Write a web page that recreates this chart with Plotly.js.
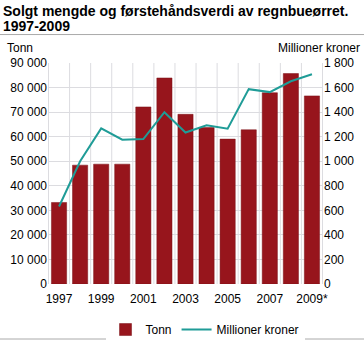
<!DOCTYPE html>
<html><head><meta charset="utf-8">
<script src="https://cdn.plot.ly/plotly-3.0.1.min.js"></script>
<style>html,body{margin:0;padding:0;background:#fff}#c{width:364px;height:356px}</style>
</head><body><div id="c"></div>
<script>
const years = ["1997","1998","1999","2000","2001","2002","2003","2004","2005","2006","2007","2008","2009*"];
const tonn = [33200,48400,48800,48800,72100,83900,69100,63700,59000,62800,77900,85700,76600];
const millKroner = [631,1000,1267,1175,1180,1399,1234,1293,1265,1587,1563,1651,1708];
const xTicks = ["1997","1999","2001","2003","2005","2007","2009*"];
const leftTicks = [0,10000,20000,30000,40000,50000,60000,70000,80000,90000];
const rightTicks = [0,200,400,600,800,1000,1200,1400,1600,1800];
const fmt = v => v.toLocaleString('en-US').replace(/,/g,'\u00a0');
const F = "Liberation Sans, Arial, sans-serif";
const data = [
 {type:'bar', x:years, y:tonn, name:'Tonn', marker:{color:'#97151c', line:{color:'#7a1016', width:0.5}}, yaxis:'y'},
 {type:'scatter', mode:'lines', x:years, y:millKroner, name:'Millioner kroner', line:{color:'#1f9c97', width:2}, yaxis:'y2'}
];
const layout = {
 width:364, height:356, paper_bgcolor:'#fff', plot_bgcolor:'#fff',
 margin:{l:48, r:41, t:63, b:60},
 font:{family:F, size:12, color:'#000'},
 bargap:0.28, showlegend:true,
 legend:{orientation:'h', x:0.571, xanchor:'center', y:-48/233, yanchor:'middle', font:{size:12}},
 xaxis:{type:'category', tickvals:xTicks, ticktext:xTicks, showgrid:false, ticks:'', ticklen:0, showline:false, tickfont:{size:12}, ticklabelstandoff:6},
 yaxis:{range:[0,90000], tickvals:leftTicks, ticktext:leftTicks.map(fmt), gridcolor:'#dcdce0', zeroline:false, ticks:'', fixedrange:true},
 yaxis2:{range:[0,1800], tickvals:rightTicks, ticktext:rightTicks.map(fmt), overlaying:'y', side:'right', showgrid:false, zeroline:false, ticks:''},
 shapes:[
  {type:'line', xref:'paper', yref:'paper', x0:-48/275, x1:1+41/275, y0:1+30/233, y1:1+30/233, line:{color:'#aaa', width:1}},
  {type:'line', xref:'paper', yref:'paper', x0:-48/275, x1:1+41/275, y0:-58/233, y1:-58/233, line:{color:'#aaa', width:1}}
 ].concat(years.map((y,i)=>({type:'line', xref:'x', yref:'paper', x0:i-0.5, x1:i-0.5, y0:0, y1:1, layer:'below', line:{color:'#dcdce0', width:1}})))
  .concat([{type:'line', xref:'x', yref:'paper', x0:years.length-0.5, x1:years.length-0.5, y0:0, y1:1, layer:'below', line:{color:'#dcdce0', width:1}}]),
 annotations:[
  {text:'<b>Solgt mengde og førstehåndsverdi av regnbueørret.</b>', xref:'paper', yref:'paper', x:-47/275, y:1+(63-8.5)/233, xanchor:'left', yanchor:'middle', align:'left', showarrow:false, font:{size:14, family:F}},
  {text:'<b>1997-2009</b>', xref:'paper', yref:'paper', x:-47/275, y:1+(63-24)/233, xanchor:'left', yanchor:'middle', align:'left', showarrow:false, font:{size:14, family:F}},
  {text:'Tonn', xref:'paper', yref:'paper', x:-43/275, y:1+16/233, xanchor:'left', yanchor:'middle', showarrow:false, font:{size:12}},
  {text:'Millioner kroner', xref:'paper', yref:'paper', x:1+39/275, y:1+16/233, xanchor:'right', yanchor:'middle', showarrow:false, font:{size:12}}
 ]
};
Plotly.newPlot('c', data, layout, {displayModeBar:false, staticPlot:true});
</script></body></html>
